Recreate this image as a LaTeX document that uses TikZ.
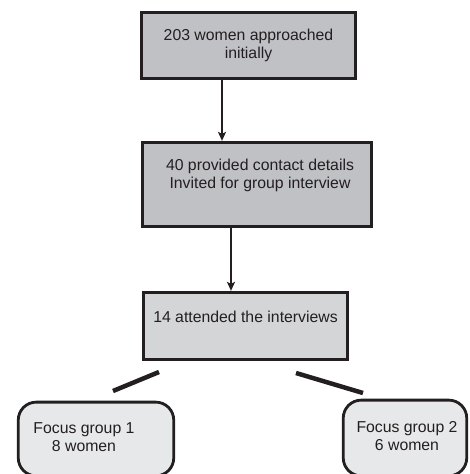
\documentclass[tikz,border=0pt]{standalone}
\usepackage{fontspec}
\setmainfont{Liberation Sans}
\usepackage{tikz}
\usetikzlibrary{arrows.meta}
\usepackage{xcolor}
\definecolor{linedark}{RGB}{35, 31, 32}
\definecolor{boxgrey}{RGB}{192, 193, 196}
\definecolor{paleboxgrey}{RGB}{212, 213, 215}
\definecolor{groupgrey}{RGB}{231, 232, 233}

\begin{document}
\begin{tikzpicture}[x=1pt, y=-1pt, >={Stealth[length=9pt, width=8pt, inset=2pt]},
  stagebox/.style={draw=linedark, line width=2.8pt, inner sep=0pt},
  groupbox/.style={stagebox, rounded corners=18pt, fill=groupgrey},
  boxtext/.style={align=center, inner sep=0pt, text=linedark,
    font=\fontsize{15.8}{18}\selectfont},
  flowline/.style={draw=linedark, line width=2.8pt},
  branchline/.style={draw=linedark, line width=4.5pt}]

  \useasboundingbox (0,0) rectangle (469,474);

  % --- Recruitment stages ---
  \node[stagebox, fill=boxgrey, minimum width=214.5pt, minimum height=66.5pt]
    (approached) at (248.5, 45.5) {};
  \node[boxtext] (approachedtext) at (248.5, 45.5) {203 women approached\\initially};

  \node[stagebox, fill=boxgrey, minimum width=229.5pt, minimum height=84.5pt]
    (contact) at (257, 184.5) {};
  \node[boxtext] (contacttext) at (260, 175.5)
    {40 provided contact details\\Invited for group interview};

  \node[stagebox, fill=paleboxgrey, minimum width=204.5pt, minimum height=67.5pt]
    (attended) at (245.5, 326) {};
  \node[boxtext] (attendedtext) at (245.5, 317) {14 attended the interviews};

  % --- Arrows between stages ---
  \draw[flowline, ->] ([xshift=-26.5pt]approached.south)
    -- ([xshift=-26.5pt]approached.south |- contact.north);
  \draw[flowline, ->] ([xshift=-26pt]contact.south)
    -- ([xshift=-26pt]contact.south |- attended.north);

  % --- Focus groups ---
  \node[groupbox, minimum width=155.5pt, minimum height=73.75pt]
    (groupone) at (96, 439) {};
  \node[boxtext] (groupfirsttext) at (84, 437.5) {Focus group 1\\8 women};

  \node[groupbox, minimum width=123.5pt, minimum height=75.75pt]
    (grouptwo) at (405, 438) {};
  \node[boxtext] (groupsecondtext) at (407, 436.5) {Focus group 2\\6 women};

  % Branch strokes
  \coordinate (leftlow) at (113, 391);
  \coordinate (lefthigh) at (159, 372);
  \coordinate (righthigh) at (296, 373);
  \coordinate (rightlow) at (363, 393);
  \draw[branchline] (leftlow) -- (lefthigh);
  \draw[branchline] (righthigh) -- (rightlow);

\end{tikzpicture}
\end{document}
